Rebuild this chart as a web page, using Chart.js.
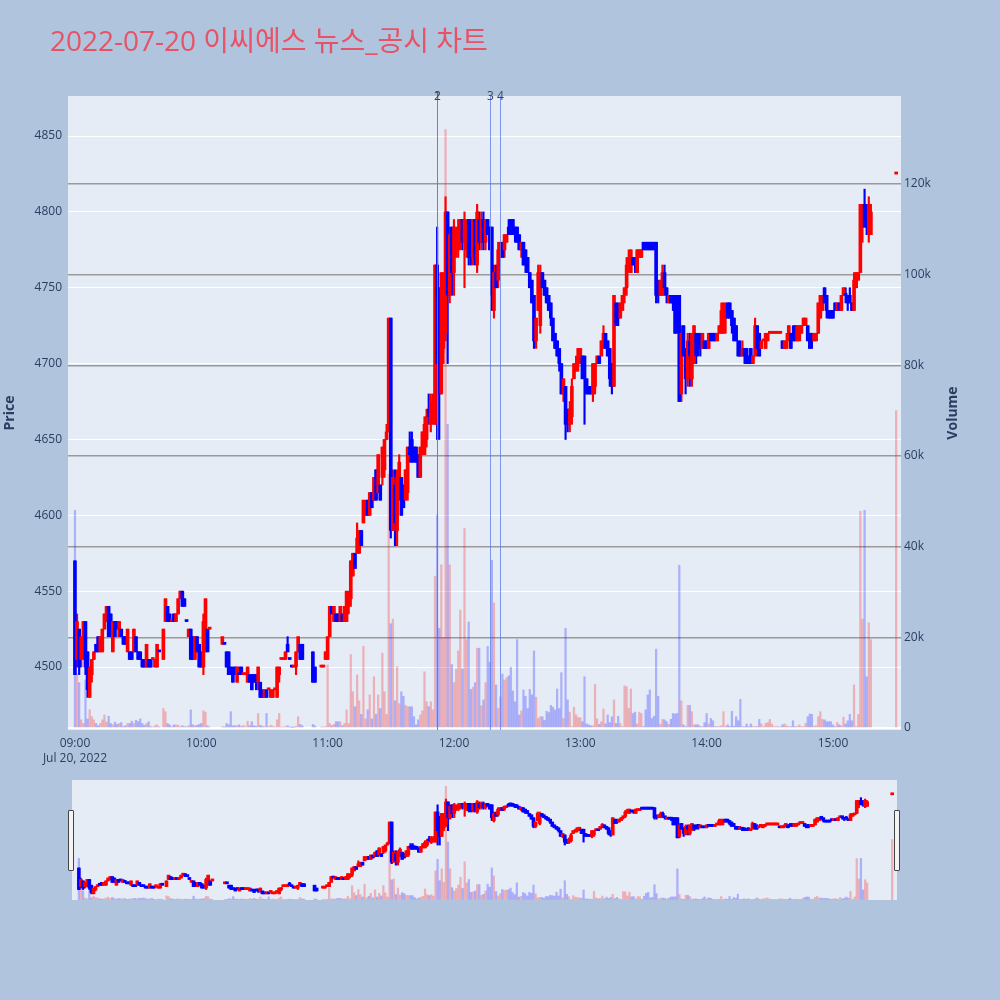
<!DOCTYPE html>
<html>
<head>
<meta charset="utf-8">
<script src="https://cdn.jsdelivr.net/npm/chart.js@4.4.0/dist/chart.umd.min.js"></script>
<style>
  html, body { margin: 0; padding: 0; background: #b0c4de; }
  #wrap { position: relative; width: 1000px; height: 1000px; overflow: hidden; }
  #title { position: absolute; left: 50px; top: 22px; line-height: 36px; white-space: nowrap;
           font-family: "Open Sans", "Noto Sans CJK KR", sans-serif; font-size: 28px; color: rgb(232, 82, 102); }
  #main { position: absolute; left: 0; top: 0; }
  #slider { position: absolute; left: 72px; top: 780px; }
  .handle { position: absolute; top: 810px; width: 4px; height: 59px; background: #f4f4f4;
            border: 1px solid #444; border-radius: 1px; }
</style>
</head>
<body>
<div id="wrap">
  <canvas id="main" width="1000" height="1000"></canvas>
  <canvas id="slider" width="825" height="120"></canvas>
  <div class="handle" style="left:68px"></div>
  <div class="handle" style="left:894px"></div>
  <div id="title">2022-07-20 이씨에스 뉴스_공시 차트</div>
</div>
<script>
// one entry per minute from 09:00 (index 0) to 15:30 (index 390), null = no trade
const N = null;
const openP = [
  4570,4505,4525,4505,4510,4530,4510,4480,4495,4505, 4515,4520,4510,4510,4525,4530,4540,4535,4510,4530,
  4530,4520,4525,4520,4520,4510,4510,4510,4510,4520, 4510,4510,4505,4505,4500,4505,4505,4505,4500,4500,
  4510,N,4505,4530,4540,4535,4530,4535,4530,4535, 4545,4550,4545,4530,4520,4525,4520,4505,4520,4515,
  4510,4500,4510,4525,4525,N,N,N,N,N, 4515,4515,4510,4510,4500,4495,4500,4490,4495,4500,
  4495,4495,4490,4495,4495,4495,4495,4490,4490,4485, 4480,4485,4485,4480,4480,4485,4480,4495,4505,4505,
  4505,4515,4505,4500,4500,4500,4510,4515,4515,N, N,N,N,4510,4500,N,N,4500,4500,4505,
  4505,4520,4540,4530,4535,4535,4530,4535,4530,4530, 4540,4545,4560,4575,4575,4575,4590,4595,4600,4610,
  4600,4615,4610,4630,4615,4620,4625,4630,4650,4655, 4730,4590,4620,4590,4615,4625,4620,4610,4615,4645,
  4650,4645,4645,4640,4625,4640,4640,4650,4670,4660, 4665,4660,4765,4750,4680,4710,4720,4800,4745,4790,
  4760,4775,4775,4780,4795,4780,4775,4795,4790,4770, 4795,4765,4795,4780,4795,4780,4795,4790,4790,4735,
  4760,4755,4770,4780,4775,4780,4790,4795,4795,4790, 4790,4785,4775,4780,4775,4770,4760,4755,4745,4715,
  4735,4725,4760,4755,4750,4745,4740,4730,4720,4715, 4710,4700,4680,4685,4670,4660,4665,4690,4695,4700,
  4705,4705,4705,4690,4685,4685,4680,4685,4700,4705, 4705,4715,4720,4715,4710,4700,4685,4740,4735,4730,
  4735,4745,4750,4765,4760,4770,4770,4760,4770,4770, 4780,4780,4780,4780,4780,4780,4780,4750,4745,4745,
  4760,4750,4740,4745,4745,4745,4745,4745,4680,4725, 4710,4690,4715,4690,4700,4720,4715,4720,4710,4715,
  4715,4710,4720,4720,4720,4715,4720,4720,4720,4730, 4740,4740,4735,4730,4725,4715,4710,4705,4710,4710,
  4705,4710,4700,4705,4725,4720,4710,4715,4710,4715, 4720,4720,4720,4720,4720,4720,4715,4710,4710,4715,
  4720,4720,4725,4715,4715,4720,4725,4725,4725,4720, 4720,4715,4715,4720,4730,4735,4750,4745,4735,4735,
  4735,4740,4735,4740,4735,4745,4745,4745,4745,4740, 4735,4750,4755,4760,4790,4805,4795,4785,4785,N,
  N,N,N,N,N,N,N,N,N,N, 4825
];
const highP = [
  4570,4535,4525,4520,4530,4530,4510,4500,4505,4510, 4515,4520,4520,4525,4535,4540,4540,4535,4530,4530,
  4530,4530,4525,4520,4520,4525,4510,4510,4525,4520, 4510,4510,4505,4505,4515,4505,4505,4505,4505,4515,
  4510,N,4525,4545,4540,4535,4530,4535,4535,4545, 4550,4550,4545,4530,4525,4525,4520,4520,4520,4515,
  4510,4535,4545,4525,4525,N,N,N,N,N, 4520,4515,4510,4510,4500,4500,4500,4500,4500,4500,
  4495,4495,4500,4495,4495,4495,4495,4500,4490,4485, 4485,4485,4485,4485,4485,4485,4500,4500,4505,4505,
  4510,4520,4505,4500,4500,4510,4520,4515,4515,N, N,N,N,4510,4500,N,N,4500,4500,4510,
  4520,4540,4540,4540,4535,4535,4540,4535,4540,4550, 4550,4570,4575,4575,4595,4590,4590,4610,4610,4610,
  4615,4615,4625,4630,4640,4620,4645,4650,4660,4730, 4730,4630,4630,4630,4640,4625,4620,4630,4645,4655,
  4655,4645,4645,4640,4645,4655,4665,4670,4680,4680, 4680,4765,4790,4750,4760,4760,4810,4800,4790,4790,
  4795,4790,4795,4795,4795,4800,4795,4795,4795,4795, 4795,4805,4800,4800,4800,4795,4795,4790,4790,4765,
  4765,4780,4780,4780,4785,4785,4795,4795,4795,4790, 4790,4785,4780,4780,4775,4770,4760,4755,4745,4730,
  4765,4765,4760,4755,4750,4745,4740,4730,4720,4715, 4710,4700,4690,4685,4670,4675,4690,4700,4705,4710,
  4710,4705,4705,4690,4685,4685,4700,4700,4705,4705, 4715,4725,4720,4715,4710,4700,4745,4740,4740,4740,
  4745,4750,4770,4775,4775,4770,4770,4775,4775,4775, 4780,4780,4780,4780,4780,4780,4780,4755,4755,4765,
  4765,4750,4745,4745,4745,4745,4745,4745,4725,4725, 4710,4720,4720,4720,4725,4720,4720,4720,4720,4715,
  4715,4720,4720,4720,4720,4720,4725,4740,4740,4740, 4740,4740,4735,4730,4725,4715,4715,4715,4710,4710,
  4705,4710,4705,4730,4725,4720,4715,4715,4720,4720, 4720,4720,4720,4720,4720,4720,4715,4715,4720,4725,
  4720,4725,4725,4725,4725,4725,4730,4730,4725,4720, 4720,4720,4720,4740,4745,4745,4750,4745,4735,4735,
  4735,4740,4740,4740,4745,4750,4750,4745,4750,4740, 4760,4760,4760,4805,4805,4815,4805,4810,4805,N,
  N,N,N,N,N,N,N,N,N,N, 4825
];
const lowP = [
  4495,4500,4495,4500,4505,4495,4480,4480,4490,4505, 4510,4510,4510,4510,4525,4530,4520,4520,4510,4520,
  4525,4520,4520,4515,4515,4510,4505,4505,4510,4510, 4505,4505,4500,4500,4500,4500,4500,4505,4500,4500,
  4510,N,4505,4530,4530,4530,4530,4530,4530,4535, 4545,4540,4540,4530,4520,4505,4505,4505,4510,4500,
  4500,4495,4510,4510,4525,N,N,N,N,N, 4515,4515,4500,4495,4495,4490,4495,4490,4495,4495,
  4495,4495,4490,4490,4485,4490,4485,4485,4480,4480, 4480,4480,4485,4480,4480,4485,4480,4490,4505,4505,
  4505,4510,4505,4500,4500,4495,4510,4505,4505,N, N,N,N,4490,4490,N,N,4500,4500,4505,
  4505,4520,4535,4530,4530,4530,4530,4530,4530,4530, 4535,4540,4560,4565,4575,4575,4580,4595,4600,4600,
  4600,4605,4610,4610,4615,4610,4620,4625,4650,4655, 4585,4590,4580,4580,4610,4600,4605,4610,4610,4635,
  4635,4635,4635,4625,4625,4640,4640,4645,4660,4655, 4660,4660,4650,4650,4680,4700,4715,4700,4740,4745,
  4745,4770,4770,4775,4775,4750,4770,4765,4765,4765, 4765,4760,4775,4775,4775,4775,4785,4775,4735,4730,
  4750,4750,4770,4770,4770,4780,4785,4785,4785,4780, 4780,4775,4770,4765,4760,4760,4750,4740,4710,4710,
  4735,4720,4750,4745,4740,4735,4725,4715,4710,4705, 4695,4680,4675,4650,4655,4655,4660,4690,4695,4695,
  4700,4690,4660,4680,4680,4680,4675,4680,4700,4700, 4705,4710,4710,4705,4685,4680,4685,4725,4725,4730,
  4735,4740,4745,4760,4760,4765,4760,4760,4770,4770, 4775,4775,4775,4775,4775,4775,4740,4740,4745,4745,
  4745,4740,4740,4740,4735,4720,4720,4675,4675,4705, 4680,4685,4685,4685,4700,4700,4705,4705,4710,4710,
  4710,4710,4715,4715,4715,4715,4720,4720,4720,4720, 4730,4730,4720,4715,4715,4705,4705,4705,4700,4700,
  4700,4700,4700,4705,4705,4705,4710,4715,4710,4715, 4720,4720,4720,4720,4720,4720,4710,4710,4710,4715,
  4710,4715,4715,4715,4715,4720,4725,4725,4715,4710, 4710,4715,4715,4720,4730,4735,4740,4730,4730,4730,
  4730,4735,4735,4735,4735,4745,4740,4735,4740,4735, 4735,4750,4755,4760,4780,4790,4785,4780,4785,N,
  N,N,N,N,N,N,N,N,N,N, 4825
];
const closeP = [
  4495,4530,4500,4520,4530,4500,4485,4500,4505,4510, 4510,4510,4520,4525,4535,4540,4520,4520,4530,4520,
  4525,4530,4520,4515,4515,4525,4505,4505,4525,4510, 4505,4505,4500,4500,4515,4500,4500,4505,4505,4515,
  4510,N,4525,4545,4530,4530,4530,4530,4535,4545, 4550,4540,4540,4530,4525,4505,4505,4520,4510,4500,
  4500,4530,4545,4510,4525,N,N,N,N,N, 4520,4515,4500,4495,4495,4490,4495,4500,4495,4495,
  4495,4495,4500,4490,4485,4490,4490,4500,4480,4480, 4485,4480,4485,4485,4485,4485,4500,4500,4505,4505,
  4510,4510,4505,4500,4500,4510,4520,4505,4505,N, N,N,N,4490,4490,N,N,4500,4500,4510,
  4520,4540,4535,4540,4530,4530,4540,4530,4540,4550, 4545,4570,4575,4565,4585,4590,4580,4610,4605,4600,
  4615,4605,4625,4610,4640,4610,4645,4650,4655,4730, 4590,4625,4595,4625,4635,4600,4605,4630,4645,4640,
  4635,4640,4635,4625,4645,4655,4660,4665,4665,4675, 4670,4765,4700,4680,4760,4755,4800,4745,4785,4760,
  4790,4785,4790,4795,4780,4795,4790,4770,4770,4795, 4770,4800,4780,4795,4780,4795,4785,4775,4745,4760,
  4750,4775,4780,4770,4785,4785,4785,4790,4785,4785, 4780,4775,4780,4765,4765,4760,4750,4740,4715,4730,
  4760,4760,4750,4745,4740,4735,4730,4715,4710,4705, 4700,4680,4690,4660,4660,4670,4685,4700,4700,4710,
  4710,4690,4690,4680,4680,4680,4700,4700,4705,4700, 4715,4720,4710,4705,4690,4685,4745,4725,4730,4740,
  4745,4750,4765,4770,4775,4765,4765,4775,4775,4775, 4775,4775,4775,4775,4775,4775,4745,4745,4755,4760,
  4750,4745,4745,4740,4740,4720,4725,4675,4720,4705, 4690,4715,4705,4720,4725,4705,4710,4715,4720,4710,
  4710,4720,4715,4715,4715,4720,4725,4735,4740,4735, 4730,4730,4725,4715,4715,4705,4705,4710,4705,4700,
  4700,4700,4705,4725,4710,4705,4715,4715,4720,4720, 4720,4720,4720,4720,4720,4720,4710,4715,4715,4725,
  4710,4715,4715,4725,4725,4725,4730,4730,4715,4710, 4715,4720,4720,4740,4745,4745,4740,4735,4730,4730,
  4730,4735,4740,4735,4745,4750,4745,4740,4740,4735, 4755,4760,4760,4805,4805,4790,4790,4805,4800,N,
  N,N,N,N,N,N,N,N,N,N, 4825
];
const volume = [
  48000,12000,10000,1800,1000,10600,2000,4000,2500,1800, 1000,500,1000,1800,2900,1300,2600,1000,700,1300,
  800,1000,1200,300,500,1000,1000,1500,1000,1700, 1400,2000,1000,600,1000,1400,300,200,500,700,
  200,N,4300,3600,1000,700,300,700,700,600, 300,500,300,200,500,4000,700,500,600,800,
  1000,3800,3500,500,200,N,N,N,N,N, 300,200,1000,700,3600,500,500,500,700,300,
  600,300,1500,500,1400,500,400,3200,600,400, 300,3200,300,600,400,200,1800,3200,200,200,
  300,500,200,100,100,400,2500,800,500,N, N,N,N,800,500,N,N,200,200,300,
  13900,1000,500,800,1400,1400,1400,500,1000,4000, 1000,16200,8000,4700,11700,6000,3000,18000,2000,4000,
  7300,2000,11300,3000,7300,4300,16500,8000,3000,56000, 23000,24000,6000,13500,5400,8000,7000,5000,4700,4700,
  4700,2500,700,1800,2900,3800,12400,5800,4700,5800, 4000,33500,47000,22000,36000,20000,132000,67000,36000,14000,
  10000,13000,17000,26000,13000,44000,19500,23400,8500,9000, 10000,17600,17600,4900,6200,10000,18000,14500,37000,27600,
  9500,4300,6900,11900,10600,11100,11500,13400,8200,5800, 19500,2900,3800,8400,7000,4300,8500,7300,17000,6800,
  2100,2500,2500,1700,3700,3400,5000,4600,4000,8600, 4300,12200,2100,22000,6200,3500,300,4600,2900,2300,
  2300,1400,11300,900,700,500,500,9600,2000,800, 1400,4200,900,2900,1200,2500,6200,1000,2600,1000,
  300,9300,9100,4300,8600,3200,3500,900,3500,3200, 300,4000,7300,8400,2100,2600,17400,7000,800,1900,
  1800,1400,800,1900,3200,3100,3200,35900,6000,700, 300,5000,5000,3600,700,700,700,300,300,1200,
  3200,900,2100,1600,300,300,300,500,3600,400, 700,300,3700,400,2500,1600,6300,300,300,900,
  300,900,400,300,300,1900,900,300,1000,1200, 1900,900,300,300,300,200,700,900,500,300,
  300,1600,300,300,700,300,300,1000,2500,3100, 3000,400,500,2500,3600,1900,1800,1400,1400,1400,
  700,300,1200,700,500,2400,900,1600,3000,1600, 9500,300,3000,47800,24000,48000,11300,23200,19500,N,
  N,N,N,N,N,N,N,N,N,N, 70000
];

const hourTicks = [0, 60, 120, 180, 240, 300, 360];
const hourLabels = ['09:00', '10:00', '11:00', '12:00', '13:00', '14:00', '15:00'];
const dateLabel = 'Jul 20, 2022';
const priceTicks = [4500, 4550, 4600, 4650, 4700, 4750, 4800, 4850];
const volumeTicks = [0, 20000, 40000, 60000, 80000, 100000, 120000];
const newsTimes = [172, 172, 197, 202];   // 11:52, 11:52, 12:17, 12:22
const newsLabels = ['1', '2', '3', '4'];

const UP = 'rgb(255,0,0)';
const DOWN = 'rgb(0,0,255)';
const UP_VOL = 'rgba(255,0,0,0.25)';
const DOWN_VOL = 'rgba(0,0,255,0.25)';
const FONT = "'Open Sans', sans-serif";
const INK = '#2a3f5f';

const candles = [];
openP.forEach((o, i) => {
  if (o === null) return;
  candles.push({ x: i, o: o, h: highP[i], l: lowP[i], c: closeP[i], v: volume[i] });
});
const rising = candles.map((d, k) =>
  d.c > d.o || (d.c === d.o && k > 0 && d.c >= candles[k - 1].c));

const makeDatasets = () => [
  {
    label: 'Volume', yAxisID: 'yv', order: 3, grouped: false,
    data: candles.map(d => ({ x: d.x, y: d.v })),
    backgroundColor: rising.map(u => u ? UP_VOL : DOWN_VOL),
    barThickness: 1.6
  },
  {
    label: 'wick', yAxisID: 'y', order: 2, grouped: false,
    data: candles.map(d => ({ x: d.x, y: [d.l, d.h] })),
    backgroundColor: rising.map(u => u ? UP : DOWN),
    barThickness: 1.5, minBarLength: 1
  },
  {
    label: 'body', yAxisID: 'y', order: 1, grouped: false,
    data: candles.map(d => ({ x: d.x, y: [d.o, d.c] })),
    backgroundColor: rising.map(u => u ? UP : DOWN),
    barThickness: 3, minBarLength: 2
  }
];

const plotBg = {
  id: 'plotBg',
  beforeDraw(chart) {
    const { ctx, chartArea: a } = chart;
    ctx.save();
    ctx.fillStyle = '#e5ecf6';
    ctx.fillRect(a.left, a.top, a.right - a.left, a.bottom - a.top);
    ctx.restore();
  }
};

const newsLines = {
  id: 'newsLines',
  afterDatasetsDraw(chart) {
    const { ctx, chartArea: a, scales } = chart;
    ctx.save();
    newsTimes.forEach((t, i) => {
      const px = Math.round(scales.x.getPixelForValue(t)) + 0.5;
      ctx.strokeStyle = 'rgba(90,120,240,0.75)';
      ctx.lineWidth = 1;
      ctx.beginPath();
      ctx.moveTo(px, a.top);
      ctx.lineTo(px, a.bottom);
      ctx.stroke();
      ctx.fillStyle = '#444';
      ctx.font = '12px ' + FONT;
      ctx.textAlign = 'center';
      ctx.textBaseline = 'middle';
      ctx.fillText(newsLabels[i], px, a.top + 1);
    });
    ctx.restore();
  }
};

const axisTitles = {
  id: 'axisTitles',
  afterDraw(chart) {
    const { ctx, chartArea: a } = chart;
    const cy = (a.top + a.bottom) / 2;
    ctx.save();
    ctx.fillStyle = INK;
    ctx.font = 'bold 14px ' + FONT;
    ctx.textAlign = 'center';
    ctx.textBaseline = 'middle';
    [['Price', 10], ['Volume', 953]].forEach(([t, x]) => {
      ctx.save();
      ctx.translate(x, cy);
      ctx.rotate(-Math.PI / 2);
      ctx.fillText(t, 0, 0);
      ctx.restore();
    });
    ctx.restore();
  }
};

const tickFont = { family: FONT, size: 12, lineHeight: 1.25 };

new Chart(document.getElementById('main'), {
  type: 'bar',
  data: { datasets: makeDatasets() },
  plugins: [plotBg, newsLines, axisTitles],
  options: {
    responsive: false,
    animation: false,
    devicePixelRatio: 1,
    events: [],
    layout: { padding: { top: 96, left: 0, right: 0, bottom: 0 } },
    plugins: { legend: { display: false }, tooltip: { enabled: false } },
    scales: {
      x: {
        type: 'linear', min: -3.3, max: 392.3, offset: false,
        grid: { display: false, drawTicks: false },
        border: { display: false },
        afterFit: s => { s.height = 270; },
        afterBuildTicks: s => { s.ticks = hourTicks.map(v => ({ value: v })); },
        ticks: {
          autoSkip: false, maxRotation: 0, padding: 6, color: INK, font: tickFont,
          callback: v => {
            const k = hourTicks.indexOf(v);
            return k === 0 ? [hourLabels[0], dateLabel] : hourLabels[k];
          }
        }
      },
      y: {
        position: 'left', min: 4458.5, max: 4876.4,
        grid: { color: '#ffffff', lineWidth: 1, drawTicks: false },
        border: { display: false },
        afterFit: s => { s.width = 68; },
        afterBuildTicks: s => { s.ticks = priceTicks.map(v => ({ value: v })); },
        ticks: { padding: 6, color: INK, font: tickFont, callback: v => String(v) }
      },
      yv: {
        position: 'right', min: -440, max: 139400,
        grid: {
          color: c => (c.tick && c.tick.value === 0) ? '#ffffff' : '#9a9a9a',
          lineWidth: c => (c.tick && c.tick.value === 0) ? 2 : 1.5,
          drawTicks: false
        },
        border: { display: false },
        afterFit: s => { s.width = 99; },
        afterBuildTicks: s => { s.ticks = volumeTicks.map(v => ({ value: v })); },
        ticks: { padding: 3, color: INK, font: tickFont, callback: v => v === 0 ? '0' : (v / 1000) + 'k' }
      }
    }
  }
});

// range slider: same data, no axes
new Chart(document.getElementById('slider'), {
  type: 'bar',
  data: { datasets: makeDatasets() },
  plugins: [plotBg],
  options: {
    responsive: false,
    animation: false,
    devicePixelRatio: 1,
    events: [],
    layout: { padding: 0 },
    plugins: { legend: { display: false }, tooltip: { enabled: false } },
    scales: {
      x: { type: 'linear', min: -3.3, max: 392.3, offset: false, display: false },
      y: { min: 4458.5, max: 4876.4, display: false },
      yv: { position: 'right', min: -440, max: 139400, display: false }
    }
  }
});
</script>
</body>
</html>
